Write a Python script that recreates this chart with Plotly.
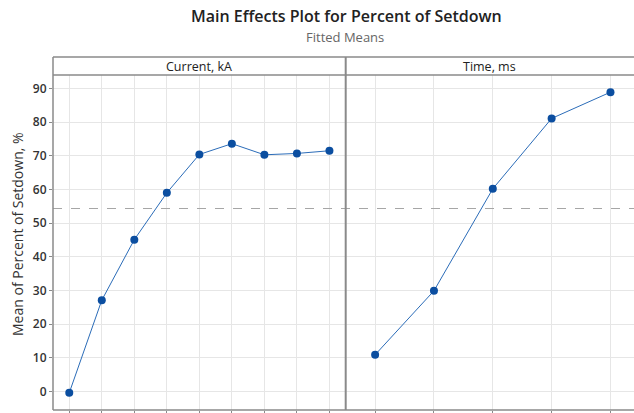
import plotly.graph_objects as go

# ---- data ----
current_levels = [1, 2, 3, 4, 5, 6, 7, 8, 9]
current_means = [-0.4, 27.1, 45.1, 59.0, 70.4, 73.6, 70.3, 70.7, 71.5]
time_levels = [1, 2, 3, 4, 5]
time_means = [10.9, 29.9, 60.2, 81.1, 88.9]
grand_mean = 54.35
y_ticks = [0, 10, 20, 30, 40, 50, 60, 70, 80, 90]
panel_titles = ["Current, kA", "Time, ms"]

W, H = 634, 413
L, R, T, B = 53, 0, 75, 3
PW = W - L - R
PH = H - T - B

def px_x(x):
    return (x - L) / PW

def px_y(y):
    return (H - B - y) / PH

split = px_x(345.7)

fig = go.Figure()
line_col = "#2B6CB8"
mark_col = "#0B4EA0"

fig.add_trace(go.Scatter(x=current_levels, y=current_means, mode="lines+markers",
                         line=dict(color=line_col, width=1),
                         marker=dict(color=mark_col, size=8),
                         xaxis="x", yaxis="y", showlegend=False))
fig.add_trace(go.Scatter(x=time_levels, y=time_means, mode="lines+markers",
                         line=dict(color=line_col, width=1),
                         marker=dict(color=mark_col, size=8),
                         xaxis="x2", yaxis="y", showlegend=False))

grid_col = "#E6E6E6"
axis_col = "#8A8A8A"
xcommon = dict(showgrid=True, gridcolor=grid_col, gridwidth=1, zeroline=False,
               showticklabels=False, ticks="outside", ticklen=3, tickcolor=axis_col,
               showline=False, fixedrange=True)
fig.update_layout(
    width=W, height=H,
    margin=dict(l=L, r=R, t=T, b=B, pad=0),
    paper_bgcolor="white", plot_bgcolor="white",
    font=dict(family="Open Sans", color="#333333"),
    xaxis=dict(domain=[0, split], range=[0.5, 9.5], tickvals=current_levels, **xcommon),
    xaxis2=dict(domain=[split, 1], range=[0.5, 5.4], tickvals=time_levels, anchor="y", **xcommon),
    yaxis=dict(range=[-5.5, 94.0], tickvals=y_ticks, showgrid=True, gridcolor=grid_col,
               zeroline=False, ticks="outside", ticklen=3, tickcolor=axis_col,
               tickfont=dict(size=12, color="#333333", weight=600),
               showline=False, fixedrange=True),
)

ytop = px_y(57)
shapes = [
    dict(type="line", xref="paper", yref="y", x0=0, x1=1, y0=grand_mean, y1=grand_mean,
         line=dict(color="#A6A6A6", width=1.2, dash="dash")),
    dict(type="line", xref="paper", yref="paper", x0=0, x1=1, y0=0, y1=0,
         line=dict(color=axis_col, width=1.5)),
    dict(type="line", xref="paper", yref="paper", x0=0, x1=0, y0=0, y1=ytop,
         line=dict(color=axis_col, width=1.5)),
    dict(type="line", xref="paper", yref="paper", x0=split, x1=split, y0=0, y1=ytop,
         line=dict(color=axis_col, width=2)),
    dict(type="line", xref="paper", yref="paper", x0=0, x1=1, y0=ytop, y1=ytop,
         line=dict(color=axis_col, width=1.5)),
    dict(type="line", xref="paper", yref="paper", x0=0, x1=1, y0=1, y1=1,
         line=dict(color=axis_col, width=1.5)),
]
fig.update_layout(shapes=shapes)

annotations = [
    dict(text="Main Effects Plot for Percent of Setdown", xref="paper", yref="paper",
         x=px_x(346), y=px_y(16), showarrow=False, xanchor="center", yanchor="middle",
         font=dict(size=16, color="#222222", weight=600)),
    dict(text="Fitted Means", xref="paper", yref="paper",
         x=px_x(345), y=px_y(37), showarrow=False, xanchor="center", yanchor="middle",
         font=dict(size=13, color="#666666")),
    dict(text=panel_titles[0], xref="paper", yref="paper",
         x=split / 2, y=px_y(66), showarrow=False, xanchor="center", yanchor="middle",
         font=dict(size=12.5, color="#222222")),
    dict(text=panel_titles[1], xref="paper", yref="paper",
         x=(split + 1) / 2, y=px_y(66), showarrow=False, xanchor="center", yanchor="middle",
         font=dict(size=12.5, color="#222222")),
    dict(text="Mean of Percent of Setdown, %", xref="paper", yref="paper",
         x=px_x(17), y=px_y(234), showarrow=False, xanchor="center", yanchor="middle",
         textangle=-90, font=dict(size=14, color="#333333")),
]
fig.update_layout(annotations=annotations)

fig.write_html("out.html", config={"displayModeBar": False},
               post_script="document.body.style.margin='0';document.body.style.overflow='hidden';")
